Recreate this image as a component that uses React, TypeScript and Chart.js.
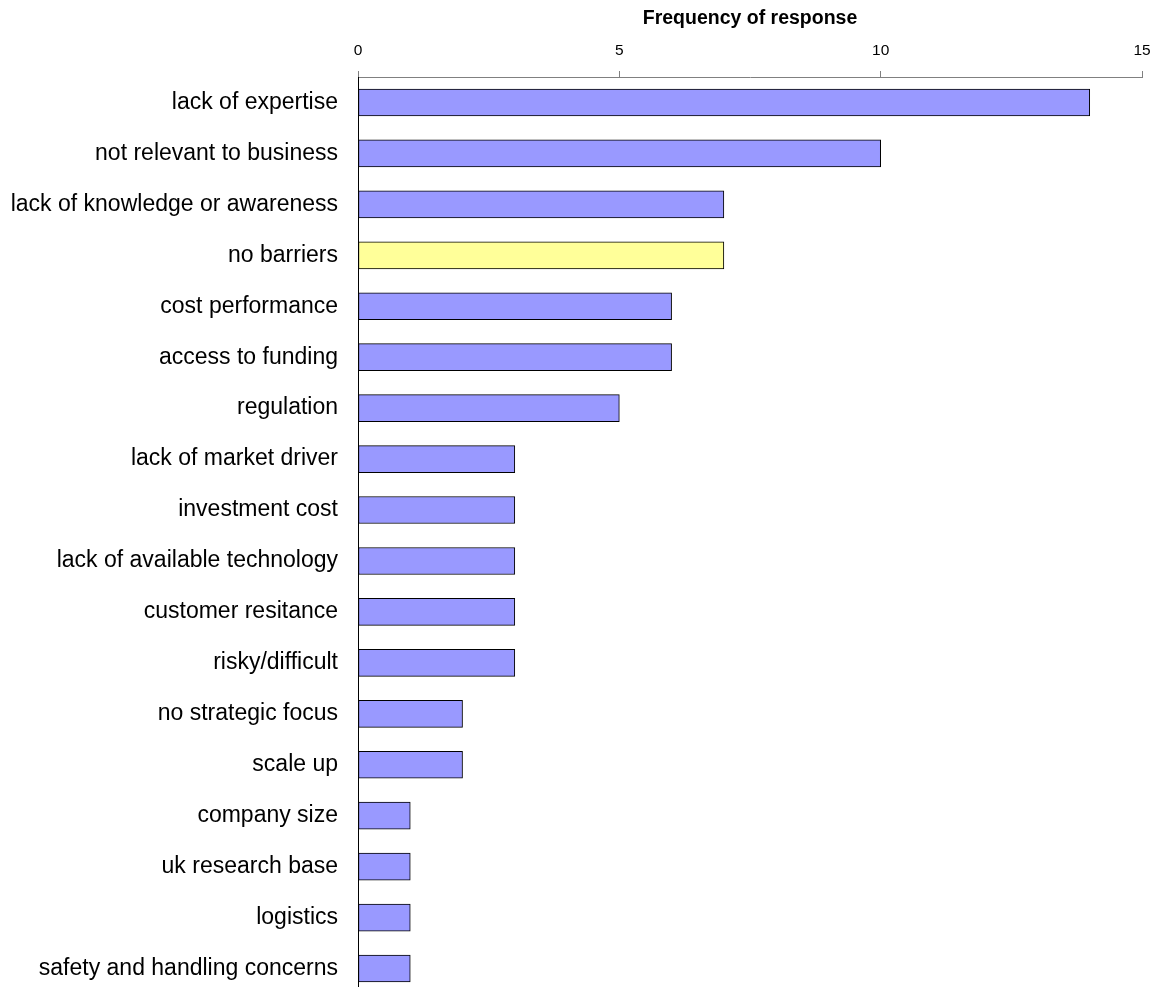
import React, { useEffect, useRef } from "react";
import { Chart, registerables } from "chart.js";

Chart.register(...registerables);

const categories = [
  "lack of expertise",
  "not relevant to business",
  "lack of knowledge or awareness",
  "no barriers",
  "cost performance",
  "access to funding",
  "regulation",
  "lack of market driver",
  "investment cost",
  "lack of available technology",
  "customer resitance",
  "risky/difficult",
  "no strategic focus",
  "scale up",
  "company size",
  "uk research base",
  "logistics",
  "safety and handling concerns",
];

const frequencies = [14, 10, 7, 7, 6, 6, 5, 3, 3, 3, 3, 3, 2, 2, 1, 1, 1, 1];

const highlighted = ["no barriers"];

const axisTitle = "Frequency of response";
const xMin = 0;
const xMax = 15;
const xStep = 5;

export default function App() {
  const ref = useRef<HTMLCanvasElement | null>(null);

  useEffect(() => {
    if (!ref.current) return;
    const font = "'Liberation Sans', Arial, sans-serif";
    const chart = new Chart(ref.current, {
      type: "bar",
      data: {
        labels: categories,
        datasets: [
          {
            data: frequencies,
            backgroundColor: categories.map((c) =>
              highlighted.includes(c) ? "#FFFF99" : "#9999FF"
            ),
            borderColor: "#000000",
            borderWidth: 1,
            barThickness: 27,
            borderSkipped: false,
          },
        ],
      },
      options: {
        indexAxis: "y",
        animation: false,
        responsive: true,
        maintainAspectRatio: false,
        layout: { padding: { left: 0, right: 14, top: 0, bottom: 0 } },
        plugins: {
          legend: { display: false },
          tooltip: { enabled: false },
        },
        scales: {
          x: {
            position: "top",
            min: xMin,
            max: xMax,
            ticks: {
              stepSize: xStep,
              color: "#000",
              font: { family: font, size: 15.5 },
              padding: 11,
            },
            grid: {
              display: true,
              drawOnChartArea: false,
              drawTicks: true,
              tickLength: 6,
              color: "#808080",
            },
            border: { display: true, color: "#808080", width: 1 },
            title: {
              display: true,
              text: axisTitle,
              color: "#000",
              font: { family: font, size: 19.5, weight: "bold" },
              padding: { top: 7, bottom: 4 },
            },
            afterFit: (scale: any) => {
              scale.height = 77;
              scale.paddingLeft = 0;
              scale.paddingRight = 0;
            },
          },
          y: {
            ticks: {
              color: "#000",
              font: { family: font, size: 23 },
              padding: 20,
            },
            grid: { display: false, drawTicks: false },
            border: { display: true, color: "#000", width: 1 },
            afterFit: (scale: any) => {
              scale.width = 358;
              scale.paddingTop = 0;
              scale.paddingBottom = 0;
            },
          },
        },
      },
    });
    return () => chart.destroy();
  }, []);

  return (
    <div
      style={{
        position: "absolute",
        left: 0,
        top: 0,
        width: 1156,
        height: 987,
        overflow: "hidden",
        background: "#fff",
      }}
    >
      <div style={{ position: "relative", width: 1156, height: 994 }}>
        <canvas ref={ref} />
      </div>
    </div>
  );
}
